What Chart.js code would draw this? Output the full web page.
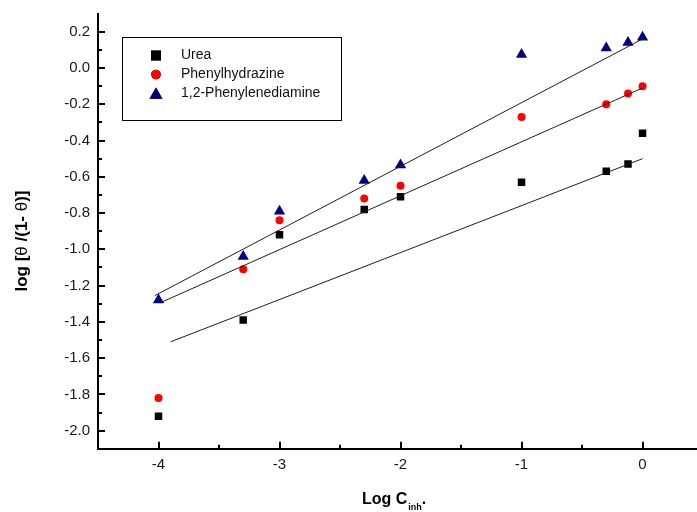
<!DOCTYPE html>
<html><head><meta charset="utf-8">
<script src="https://cdn.jsdelivr.net/npm/chart.js@4/dist/chart.umd.min.js"></script>
<style>html,body{margin:0;padding:0;background:#fff;overflow:hidden;}</style>
</head><body><canvas id="c" width="697" height="512"></canvas>
<script>
// ---- data ----
const xValues = [-4, -3.3, -3, -2.3, -2, -1, -0.3, -0.12, 0];
const ureaValues = [-1.92, -1.39, -0.92, -0.78, -0.71, -0.63, -0.57, -0.53, -0.36];
const phenylhydrazineValues = [-1.82, -1.11, -0.84, -0.72, -0.65, -0.27, -0.20, -0.14, -0.10];
const phenylenediamineValues = [-1.28, -1.04, -0.79, -0.62, -0.535, 0.075, 0.11, 0.14, 0.17];
const ureaFitX = [-3.9, 0];
const ureaFitY = [-1.51, -0.50];
const phenylhydrazineFitX = [-3.97, 0];
const phenylhydrazineFitY = [-1.29, -0.11];
const phenylenediamineFitX = [-4.03, 0];
const phenylenediamineFitY = [-1.255, 0.16];
const seriesNames = ['Urea', 'Phenylhydrazine', '1,2-Phenylenediamine'];
const xTickValues = [-4, -3, -2, -1, 0];
const xMinorTickValues = [-3.5, -2.5, -1.5, -0.5];
const yTickValues = [-2.0, -1.8, -1.6, -1.4, -1.2, -1.0, -0.8, -0.6, -0.4, -0.2, 0.0, 0.2];
const yMinorTickValues = [-1.9, -1.7, -1.5, -1.3, -1.1, -0.9, -0.7, -0.5, -0.3, -0.1, 0.1];

const FONT = "'Liberation Sans', Arial, sans-serif";
const toPts = (xs, ys) => xs.map((x, i) => ({x: x, y: ys[i]}));

const colors = ['#000000', '#ff0000', '#000080'];
const styles = ['rect', 'circle', 'triangle'];
const radii = [5.3, 4, 6.5];

const pointSets = [ureaValues, phenylhydrazineValues, phenylenediamineValues];
const fits = [[ureaFitX, ureaFitY], [phenylhydrazineFitX, phenylhydrazineFitY], [phenylenediamineFitX, phenylenediamineFitY]];

const datasets = [];
fits.forEach((f) => {
  datasets.push({
    data: toPts(f[0], f[1]), showLine: true, borderColor: '#1e1e1e', borderWidth: 1,
    pointRadius: 0, pointHoverRadius: 0, fill: false
  });
});
pointSets.forEach((vals, i) => {
  datasets.push({
    label: seriesNames[i], data: toPts(xValues, vals), showLine: false,
    pointStyle: styles[i], pointRadius: radii[i], pointHoverRadius: radii[i],
    backgroundColor: colors[i], borderColor: colors[i], borderWidth: 0
  });
});

const extras = {
  id: 'extras',
  afterDraw(chart) {
    const ctx = chart.ctx;
    const xs = chart.scales.x, ys = chart.scales.y;
    const area = chart.chartArea;
    ctx.save();
    ctx.strokeStyle = '#000';
    ctx.lineWidth = 2;
    // x ticks (inward)
    xTickValues.forEach(v => { const p = Math.round(xs.getPixelForValue(v)); ctx.beginPath(); ctx.moveTo(p, area.bottom); ctx.lineTo(p, area.bottom - 7); ctx.stroke(); });
    xMinorTickValues.forEach(v => { const p = Math.round(xs.getPixelForValue(v)); ctx.beginPath(); ctx.moveTo(p, area.bottom); ctx.lineTo(p, area.bottom - 4); ctx.stroke(); });
    // y ticks (inward)
    yTickValues.forEach(v => { const p = Math.round(ys.getPixelForValue(v)); ctx.beginPath(); ctx.moveTo(area.left, p); ctx.lineTo(area.left + 7, p); ctx.stroke(); });
    yMinorTickValues.forEach(v => { const p = Math.round(ys.getPixelForValue(v)); ctx.beginPath(); ctx.moveTo(area.left, p); ctx.lineTo(area.left + 4, p); ctx.stroke(); });

    // legend box
    ctx.lineWidth = 1;
    ctx.strokeRect(122.5, 37.5, 219, 83);
    const ly = [55.5, 74.5, 93.5];
    const lr = [7, 4.8, 7.5];
    seriesNames.forEach((name, i) => {
      Chart.helpers.drawPoint(ctx, {pointStyle: styles[i], radius: lr[i], borderWidth: 0, rotation: 0}, 156, i === 2 ? ly[i] + 1.5 : ly[i]);
      ctx.fillStyle = colors[i];
      ctx.fill();
      ctx.fillStyle = '#111';
      ctx.font = '14px ' + FONT;
      ctx.textBaseline = 'middle';
      ctx.textAlign = 'left';
      ctx.fillText(name, 181, ly[i]);
    });

    // x axis title: Log C_inh.
    ctx.fillStyle = '#000';
    ctx.textBaseline = 'alphabetic';
    ctx.font = 'bold 16px ' + FONT;
    let x0 = 362;
    ctx.fillText('Log C', x0, 504);
    x0 += ctx.measureText('Log C').width + 1;
    ctx.font = 'bold 9px ' + FONT;
    ctx.fillText('inh', x0, 510);
    x0 += ctx.measureText('inh').width;
    ctx.font = 'bold 16px ' + FONT;
    ctx.fillText('.', x0, 504);

    // y axis title
    const segs = [
      {t: 'log [', f: 'bold 17px ' + FONT},
      {t: 'θ', f: '17px ' + FONT},
      {t: ' /(1- ', f: 'bold 17px ' + FONT},
      {t: 'θ', f: '17px ' + FONT},
      {t: ')]', f: 'bold 17px ' + FONT}
    ];
    let total = 0;
    segs.forEach(s => { ctx.font = s.f; s.w = ctx.measureText(s.t).width; total += s.w; });
    ctx.translate(27, 241);
    ctx.rotate(-Math.PI / 2);
    let cx = -total / 2;
    segs.forEach(s => { ctx.font = s.f; ctx.fillText(s.t, cx, 0); cx += s.w; });
    ctx.restore();
  }
};

new Chart(document.getElementById('c'), {
  type: 'scatter',
  data: {datasets: datasets},
  options: {
    responsive: false, devicePixelRatio: 1, animation: false,
    layout: {autoPadding: false, padding: {top: 13.6, right: 0, left: 0, bottom: 0}},
    plugins: {legend: {display: false}, tooltip: {enabled: false}},
    scales: {
      x: {
        type: 'linear', min: -4.5, max: 0.45,
        grid: {display: false, drawTicks: false},
        border: {display: true, color: '#000', width: 2},
        afterBuildTicks: s => { s.ticks = xTickValues.map(v => ({value: v})); },
        afterFit: s => { s.height = 63.2; s.paddingLeft = 0; s.paddingRight = 0; },
        ticks: {padding: 7, color: '#1a1a1a', font: {family: FONT, size: 15}, maxRotation: 0,
                callback: v => String(v)}
      },
      y: {
        type: 'linear', min: -2.1, max: 0.3,
        grid: {display: false, drawTicks: false},
        border: {display: true, color: '#000', width: 2},
        afterBuildTicks: s => { s.ticks = yTickValues.map(v => ({value: v})); },
        afterFit: s => { s.width = 98; s.paddingTop = 0; s.paddingBottom = 0; },
        ticks: {padding: 8, color: '#1a1a1a', font: {family: FONT, size: 15},
                callback: v => Number(v).toFixed(1)}
      }
    }
  },
  plugins: [extras]
});
</script>
</body></html>
